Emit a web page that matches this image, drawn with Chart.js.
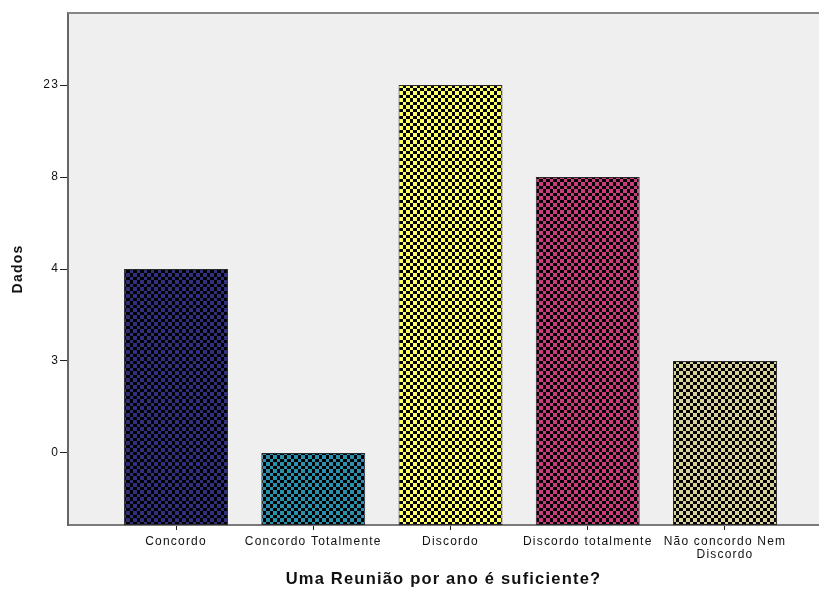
<!DOCTYPE html>
<html>
<head>
<meta charset="utf-8">
<script src="https://cdn.jsdelivr.net/npm/chart.js@4/dist/chart.umd.min.js"></script>
<style>
  html, body { margin: 0; padding: 0; background: #ffffff; }
  #c { display: block; }
</style>
</head>
<body>
<canvas id="c" width="819" height="594"></canvas>
<script>
// Answers to "Uma Reunião por ano é suficiente?"
const categories = ['Concordo', 'Concordo Totalmente', 'Discordo', 'Discordo totalmente', ['Não concordo Nem', 'Discordo']];
const counts = [4, 0, 23, 8, 3];
// The value axis is ordinal: each distinct count gets its own evenly spaced tick
const yTickLabels = ['0', '3', '4', '8', '23'];
const barColors = ['#2f2f7c', '#2b8fae', '#ffff66', '#c93d7e', '#d8d29a'];

const Y_MIN = -0.783, Y_MAX = 4.783;
const X_MIN = -0.787, X_MAX = 4.685;

// black checkerboard laid over a base colour
function checker(color) {
  const p = document.createElement('canvas');
  p.width = 14; p.height = 14;
  const g = p.getContext('2d');
  g.fillStyle = color;
  g.fillRect(0, 0, 14, 14);
  g.fillStyle = '#000000';
  const edges = [0, 4, 7, 11, 14];
  for (let r = 0; r < 4; r++) {
    for (let c = 0; c < 4; c++) {
      if ((r + c) % 2 === 1) {
        g.fillRect(edges[c], edges[r], edges[c + 1] - edges[c], edges[r + 1] - edges[r]);
      }
    }
  }
  return document.getElementById('c').getContext('2d').createPattern(p, 'repeat');
}

const points = counts.map((v, i) => ({ x: i, y: yTickLabels.indexOf(String(v)) }));

const SPACING = '1.2px';

const frame = {
  id: 'frame',
  beforeLayout(chart) { chart.ctx.letterSpacing = SPACING; },
  beforeDraw(chart) {
    const { ctx, chartArea: a } = chart;
    ctx.save();
    ctx.fillStyle = '#ffffff';
    ctx.fillRect(0, 0, chart.width, chart.height);
    ctx.fillStyle = '#efefef';
    ctx.fillRect(a.left, a.top, a.right - a.left, a.bottom - a.top);
    ctx.restore();
    ctx.letterSpacing = SPACING;
  },
  afterDraw(chart) {
    const { ctx, chartArea: a } = chart;
    ctx.save();
    ctx.strokeStyle = '#858585';
    ctx.lineWidth = 2;
    ctx.beginPath();
    ctx.moveTo(a.left, a.top);
    ctx.lineTo(a.right, a.top);
    ctx.stroke();
    ctx.restore();
  }
};

new Chart(document.getElementById('c'), {
  type: 'bar',
  data: {
    datasets: [{
      data: points,
      base: Y_MIN,
      backgroundColor: barColors.map(checker),
      borderColor: '#2a2a2a',
      borderWidth: 1,
      borderSkipped: false,
      barPercentage: 0.757,
      categoryPercentage: 1
    }]
  },
  options: {
    responsive: false,
    devicePixelRatio: 1,
    animation: false,
    layout: { padding: { top: 13, right: 0, left: 0, bottom: 0 } },
    plugins: { legend: { display: false }, tooltip: { enabled: false } },
    scales: {
      x: {
        type: 'linear',
        min: X_MIN,
        max: X_MAX,
        offset: false,
        afterFit(s) { s.height = 69; },
        afterBuildTicks(s) { s.ticks = categories.map((_, i) => ({ value: i })); },
        grid: { offset: false, drawOnChartArea: false, drawTicks: true, tickLength: 5, tickColor: '#222222' },
        border: { color: '#7a7a7a', width: 2 },
        ticks: {
          autoSkip: false,
          maxRotation: 0,
          padding: 5,
          color: '#111111',
          font: { family: 'Liberation Sans', size: 12, lineHeight: 1.1 },
          callback: v => categories[Math.round(v)]
        },
        title: {
          display: true,
          text: 'Uma Reunião por ano é suficiente?',
          color: '#111111',
          font: { family: 'Liberation Sans', size: 16.5, weight: 'bold' },
          padding: { top: 0, bottom: 5 }
        }
      },
      y: {
        type: 'linear',
        min: Y_MIN,
        max: Y_MAX,
        afterFit(s) { s.width = 68; },
        afterBuildTicks(s) { s.ticks = yTickLabels.map((_, i) => ({ value: i })); },
        grid: { drawOnChartArea: false, drawTicks: true, tickLength: 8, tickColor: '#222222' },
        border: { color: '#666666', width: 2 },
        ticks: {
          padding: 1,
          color: '#111111',
          font: { family: 'Liberation Sans', size: 12 },
          callback: v => yTickLabels[Math.round(v)]
        },
        title: {
          display: true,
          text: 'Dados',
          color: '#111111',
          font: { family: 'Liberation Sans', size: 14, weight: 'bold' },
          padding: { top: 10, bottom: 0 }
        }
      }
    }
  },
  plugins: [frame]
});
</script>
</body>
</html>
